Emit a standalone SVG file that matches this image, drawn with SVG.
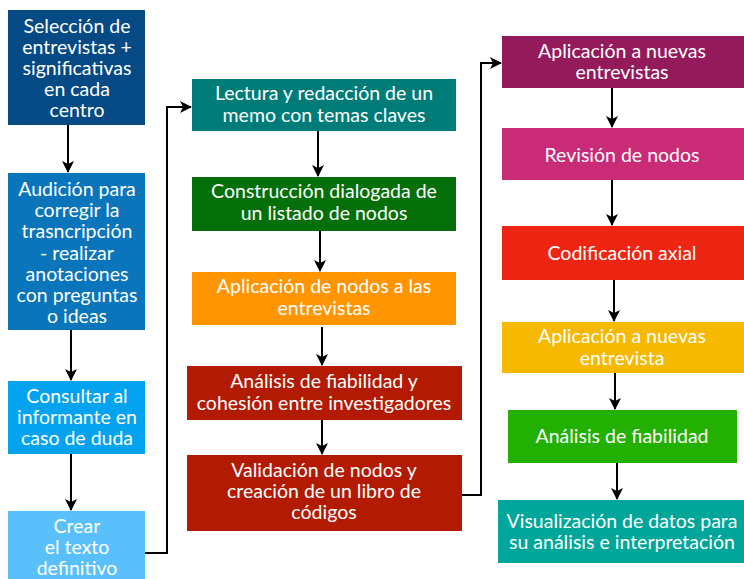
<svg xmlns="http://www.w3.org/2000/svg" width="744" height="579" viewBox="0 0 744 579">
<style>
text{font-family:Lato,"Open Sans","DejaVu Sans",sans-serif;font-size:19.5px;fill:#fff;text-anchor:middle}
.c{fill:none;stroke:#000;stroke-width:2}
</style>
<defs>
<marker id="ah" viewBox="0 0 12 12" refX="11" refY="6" markerWidth="12" markerHeight="12" markerUnits="userSpaceOnUse" orient="auto">
<path d="M0,0 L12,6 L0,12 L3,6 z" fill="#000"/>
</marker>
</defs>
<rect width="744" height="579" fill="#fff"/>
<g id="connectors">
<line class="c" x1="68" y1="125" x2="68" y2="172" marker-end="url(#ah)"/>
<line class="c" x1="71" y1="330" x2="71" y2="380" marker-end="url(#ah)"/>
<line class="c" x1="71" y1="454" x2="71" y2="510" marker-end="url(#ah)"/>
<polyline class="c" points="145,553 167,553 167,107 191,107" marker-end="url(#ah)"/>
<line class="c" x1="318" y1="131" x2="318" y2="176" marker-end="url(#ah)"/>
<line class="c" x1="320" y1="231" x2="320" y2="271" marker-end="url(#ah)"/>
<line class="c" x1="322" y1="327" x2="322" y2="365" marker-end="url(#ah)"/>
<line class="c" x1="322" y1="420" x2="322" y2="454" marker-end="url(#ah)"/>
<polyline class="c" points="462,495 481,495 481,63 501,63" marker-end="url(#ah)"/>
<line class="c" x1="612" y1="88" x2="612" y2="127" marker-end="url(#ah)"/>
<line class="c" x1="612" y1="180" x2="612" y2="225" marker-end="url(#ah)"/>
<line class="c" x1="614" y1="280" x2="614" y2="321" marker-end="url(#ah)"/>
<line class="c" x1="615" y1="373" x2="615" y2="409" marker-end="url(#ah)"/>
<line class="c" x1="617" y1="463" x2="617" y2="499" marker-end="url(#ah)"/>
</g>
<g id="n1"><rect x="8" y="10" width="137" height="115" fill="#054a85"/>
<text x="77" y="33">Selección de</text><text x="77" y="54">entrevistas +</text><text x="77" y="75">significativas</text><text x="77" y="96">en cada</text><text x="77" y="117">centro</text></g>
<g id="n2"><rect x="8" y="173" width="137" height="157" fill="#0a75bb"/>
<text x="77" y="196">Audición para</text><text x="77" y="217">corregir la</text><text x="77" y="238">trasncripción</text><text x="77" y="260">- realizar</text><text x="77" y="281">anotaciones</text><text x="77" y="302">con preguntas</text><text x="77" y="323">o ideas</text></g>
<g id="n3"><rect x="8" y="381" width="137" height="73" fill="#03a3f0"/>
<text x="77" y="403">Consultar al</text><text x="77" y="424">informante en</text><text x="77" y="445">caso de duda</text></g>
<g id="n4"><rect x="8" y="511" width="137" height="68" fill="#5ac0fc"/>
<text x="77" y="533">Crear</text><text x="77" y="554">el texto</text><text x="77" y="575">definitivo</text></g>
<g id="n5"><rect x="192" y="79" width="264" height="52" fill="#007c78"/>
<text x="324" y="100">Lectura y redacción de un</text><text x="324" y="122">memo con temas claves</text></g>
<g id="n6"><rect x="192" y="177" width="264" height="54" fill="#056f0a"/>
<text x="324" y="198">Construcción dialogada de</text><text x="324" y="220">un listado de nodos</text></g>
<g id="n7"><rect x="192" y="272" width="264" height="53" fill="#ff9500"/>
<text x="324" y="293">Aplicación de nodos a las</text><text x="324" y="315">entrevistas</text></g>
<g id="n8"><rect x="187" y="366" width="275" height="54" fill="#b31a02"/>
<text x="324" y="388">Análisis de fiabilidad y</text><text x="324" y="410">cohesión entre investigadores</text></g>
<g id="n9"><rect x="187" y="455" width="275" height="76" fill="#b31a02"/>
<text x="324" y="477">Validación de nodos y</text><text x="324" y="498">creación de un libro de</text><text x="324" y="519">códigos</text></g>
<g id="n10"><rect x="502" y="36" width="242" height="52" fill="#951a5c"/>
<text x="622" y="58">Aplicación a nuevas</text><text x="622" y="79">entrevistas</text></g>
<g id="n11"><rect x="502" y="128" width="242" height="52" fill="#c92b77"/>
<text x="622" y="162">Revisión de nodos</text></g>
<g id="n12"><rect x="502" y="226" width="242" height="54" fill="#ee2512"/>
<text x="622" y="260">Codificación axial</text></g>
<g id="n13"><rect x="502" y="322" width="242" height="51" fill="#f7b800"/>
<text x="622" y="343">Aplicación a nuevas</text><text x="622" y="365">entrevista</text></g>
<g id="n14"><rect x="508" y="410" width="229" height="53" fill="#22b003"/>
<text x="622" y="443">Análisis de fiabilidad</text></g>
<g id="n15"><rect x="498" y="500" width="246" height="63" fill="#00a69a"/>
<text x="622" y="528">Visualización de datos para</text><text x="622" y="549">su análisis e interpretación</text></g>
</svg>
